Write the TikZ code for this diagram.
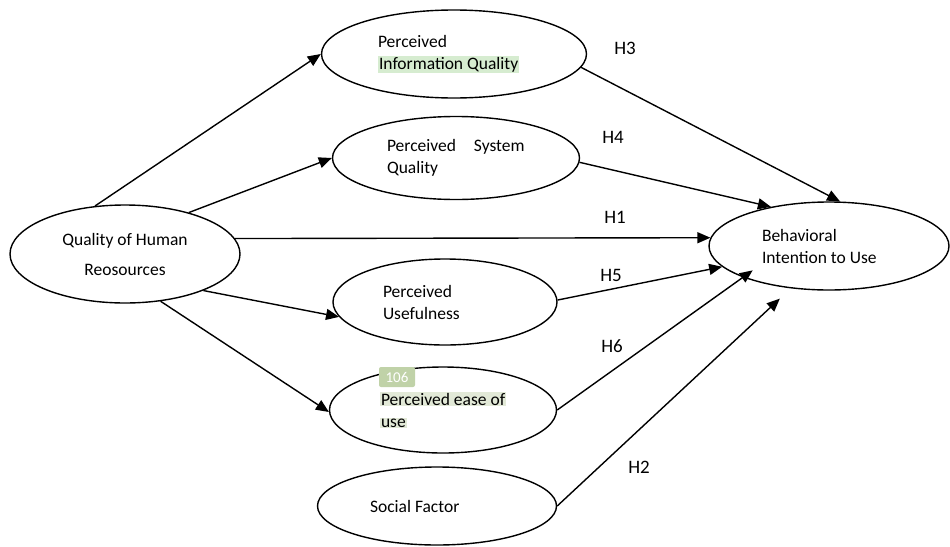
\documentclass[tikz,border=0pt]{standalone}
\usepackage{fontspec}
\setmainfont{Carlito}
\usepackage{tikz}
\usetikzlibrary{arrows.meta,shapes.geometric}
\definecolor{hlgreen}{RGB}{214,236,208}
\definecolor{hlsage}{RGB}{226,233,215}
\definecolor{pagegreen}{RGB}{192,210,168}
\newcommand{\hlq}[2]{{\fboxsep=1pt\colorbox{#1}{#2}}}

\begin{document}
\begin{tikzpicture}[x=1pt, y=-1pt, >={Triangle[length=13pt,width=11pt]},
  font=\fontsize{17.5}{22}\selectfont,
  latent/.style={draw, ellipse, line width=1.4pt, inner sep=0pt, align=left,
                 execute at begin node={\spaceskip=0pt\xspaceskip=0pt}},
  path/.style={->, line width=1.4pt},
  hyp/.style={font=\fontsize{19}{20}\selectfont}]
\useasboundingbox (0,0) rectangle (950,546);
% constructs
\node[latent, align=center, minimum width=230, minimum height=98] (qhr) at (125,254) {Quality of Human\\[8pt] Reosources};
\node[latent, text width=152, minimum width=265, minimum height=88] (piq) at (454,54) {\mbox{Perceived}\\ \hlq{hlgreen}{Information Quality}};
\node[latent, text width=138, minimum width=247, minimum height=83] (psq) at (456,158) {\mbox{Perceived\hspace{14pt} System}\\ \mbox{Quality}};
\node[latent, text width=124, minimum width=224, minimum height=86] (pu) at (445,302) {\mbox{Perceived}\\ \mbox{Usefulness}};
\node[latent, text width=126, minimum width=227, minimum height=86] (peu) at (443,410) {\hlq{hlsage}{Perceived ease of}\\ \hlq{hlsage}{use}};
\node[latent, text width=134, minimum width=239, minimum height=78] (sf) at (437,506) {\mbox{Social Factor}};
\node[latent, text width=134, minimum width=240, minimum height=88] (biu) at (829,246) {\mbox{Behavioral}\\ \mbox{Intention to Use}};
\node[fill=pagegreen, text=white, rounded corners=2pt, inner sep=2pt, minimum width=36, minimum height=20,
      font=\fontsize{15}{16}\selectfont] (pg) at (397,377) {106};
% paths from quality of human resources
\draw[path] (qhr.122) -- (piq.180);
\draw[path] (qhr.33) -- (psq.180);
\draw[path] (qhr.8) -- (biu.176);
\draw[path] (qhr.-25) -- (pu.188);
\draw[path] (qhr.-53) -- (peu.181);
% paths into behavioral intention
\draw[path] (piq.-6) -- (biu.76);
\draw[path] (psq.-2) -- (biu.146);
\draw[path] (pu.1) -- (biu.191);
\draw[path, shorten >=-12pt] (peu.0) -- (biu.200);
\draw[path, shorten >=15pt] (sf.0) -- (biu.228);
% hypotheses
\node[hyp] (h3) at (625,48) {H3};
\node[hyp] (h4) at (613,137) {H4};
\node[hyp] (h1) at (615,217) {H1};
\node[hyp] (h5) at (611,275) {H5};
\node[hyp] (h6) at (612,346) {H6};
\node[hyp] (h2) at (639,467) {H2};
\end{tikzpicture}
\end{document}
